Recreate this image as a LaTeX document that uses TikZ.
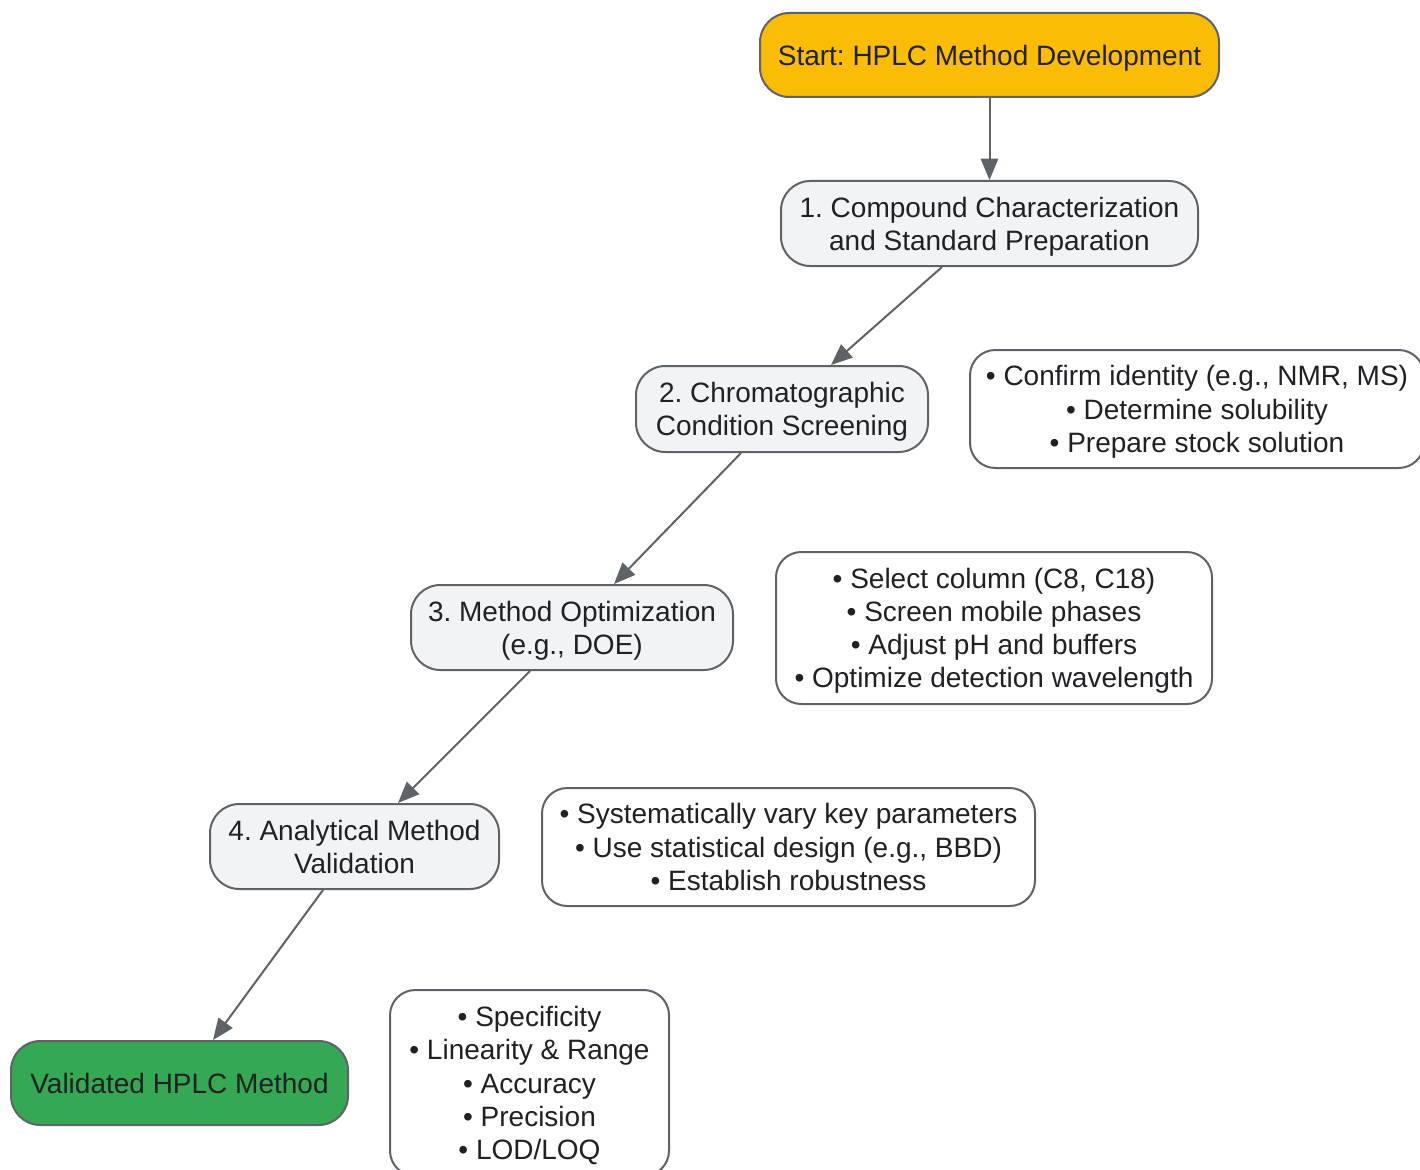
\documentclass[tikz,border=0pt]{standalone}
\usepackage{fontspec}
\setmainfont{Liberation Sans}
\usetikzlibrary{arrows.meta,calc}
\definecolor{edgegray}{HTML}{5F6368}
\definecolor{txt}{HTML}{202124}
\definecolor{startfill}{HTML}{FABC05}
\definecolor{endfill}{HTML}{34A853}
\definecolor{stepfill}{HTML}{F1F3F4}
\tikzset{
  base/.style={draw=edgegray, line width=1.5pt, text=txt, align=center, inner sep=0pt,
    text depth=0pt, font=\fontsize{21}{24.9}\selectfont\frenchspacing},
  pill/.style={base, rounded corners=22pt},
  stepbox/.style={pill, fill=stepfill},
  startbox/.style={pill, fill=startfill},
  endbox/.style={pill, fill=endfill},
  notebox/.style={base, fill=white, rounded corners=19pt},
  conn/.style={draw=edgegray, line width=1.5pt, -{Triangle[length=16pt,width=13pt]}}
}
\begin{document}
\begin{tikzpicture}[x=0.75pt,y=-0.75pt]
\useasboundingbox[fill=white] (0,0) rectangle (1420,1170);
\node[startbox, minimum width=459*0.75pt, minimum height=84*0.75pt] (start) at (989.5,55) {Start: HPLC Method Development};
\node[stepbox, minimum width=417*0.75pt, minimum height=85*0.75pt] (s1) at (989.5,223.5) {1. Compound Characterization\\and Standard Preparation};
\node[stepbox, minimum width=292*0.75pt, minimum height=86*0.75pt] (s2) at (782,409) {2. Chromatographic\\Condition Screening};
\node[stepbox, minimum width=322*0.75pt, minimum height=85*0.75pt] (s3) at (572,627.5) {3. Method Optimization\\(e.g., DOE)};
\node[stepbox, minimum width=289*0.75pt, minimum height=85*0.75pt] (s4) at (354.5,846.5) {4. Analytical Method\\Validation};
\node[endbox, minimum width=337*0.75pt, minimum height=84*0.75pt] (done) at (179.5,1083) {Validated HPLC Method};

\node[notebox, minimum width=454*0.75pt, minimum height=118*0.75pt] (n1) at (1197,409) {• Confirm identity (e.g., NMR, MS)\\• Determine solubility\\• Prepare stock solution};
\node[notebox, minimum width=436*0.75pt, minimum height=152*0.75pt] (n2) at (994,628) {• Select column (C8, C18)\\• Screen mobile phases\\• Adjust pH and buffers\\• Optimize detection wavelength};
\node[notebox, minimum width=493*0.75pt, minimum height=118*0.75pt] (n3) at (788.5,847) {• Systematically vary key parameters\\• Use statistical design (e.g., BBD)\\• Establish robustness};
\node[notebox, minimum width=279*0.75pt, minimum height=186*0.75pt] (n4) at (529.5,1083) {• Specificity\\• Linearity \& Range\\• Accuracy\\• Precision\\• LOD/LOQ};

\draw[conn] (start.south) -- (s1.north);
\draw[conn] ($(s1.south)+(-47.5,0)$) -- ($(s2.north)+(49,0)$);
\draw[conn] ($(s2.south)+(-41,0)$) -- ($(s3.north)+(42,0)$);
\draw[conn] ($(s3.south)+(-42,0)$) -- ($(s4.north)+(43.5,0)$);
\draw[conn] ($(s4.south)+(-31.5,0)$) -- ($(done.north)+(33.5,0)$);
\end{tikzpicture}
\end{document}
